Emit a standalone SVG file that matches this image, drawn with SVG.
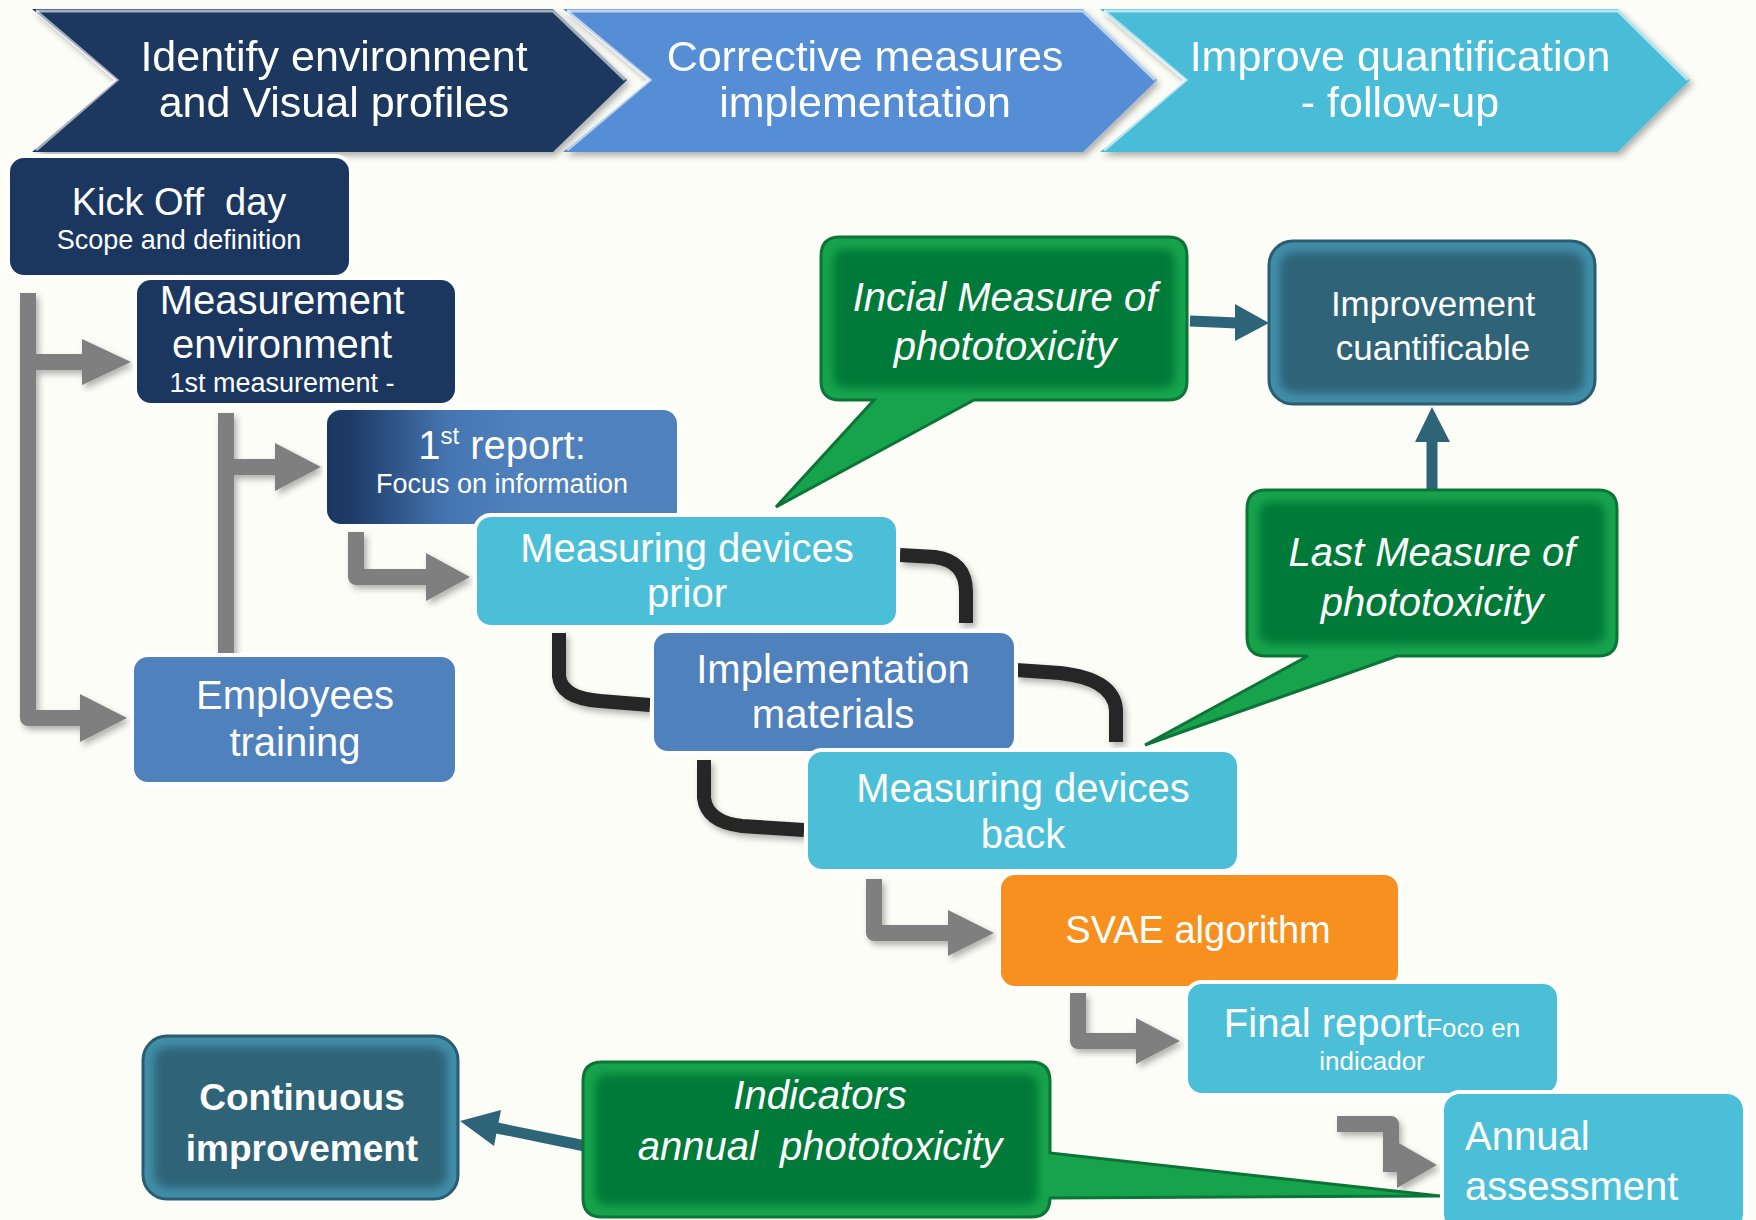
<svg xmlns="http://www.w3.org/2000/svg" width="1756" height="1220" viewBox="0 0 1756 1220">
<defs>
<style>
.t{font-family:'Liberation Sans',Arial,Helvetica,sans-serif;fill:#fff;text-anchor:middle}
.h{font-size:43px}
.m{font-size:40px}
.s{font-size:27px}
.it{font-style:italic}
.box{stroke:#fff;stroke-width:4}
.navy{fill:#1b375f}
.blue{fill:#4f81bd}
.cyan{fill:#4bbfd8}
.orange{fill:#f7901e}
.gray{fill:none;stroke:#7f7f7f;stroke-width:16;stroke-linejoin:round}
.grayhead{fill:#7f7f7f}
.blk{fill:none;stroke:#262626;stroke-width:14}
.teal{fill:none;stroke:#2e6478;stroke-width:11}
.tealhead{fill:#2e6478}
.gOut{fill:#17a34c;stroke:#0b7436;stroke-width:3}
.gIn{fill:#007a38}
.tOut{fill:#428ea9;stroke:#2a5d71;stroke-width:3}
.tIn{fill:#2e6478}
.hl{fill:none;stroke:#fff;stroke-opacity:0.6;stroke-width:3}
</style>
<filter id="soft" x="-10%" y="-10%" width="120%" height="120%"><feGaussianBlur stdDeviation="4"/></filter>
<filter id="sh" x="-10%" y="-10%" width="130%" height="130%"><feDropShadow dx="3" dy="4" stdDeviation="3" flood-color="#000" flood-opacity="0.3"/></filter>
<linearGradient id="rep" x1="0" x2="1" y1="0" y2="0">
<stop offset="0" stop-color="#1a365f"/>
<stop offset="0.08" stop-color="#1e3c68"/>
<stop offset="0.35" stop-color="#4576b2"/>
<stop offset="0.55" stop-color="#4f81bd"/>
<stop offset="1" stop-color="#4f81bd"/>
</linearGradient>
</defs>
<rect x="0" y="0" width="1756" height="1220" fill="#fdfdf8"/>

<!-- phase chevrons -->
<g id="phase3" filter="url(#sh)">
<polygon points="1100,9 1618,9 1690,80 1618,152 1100,152 1186,80" fill="#4abdd7"/>
<polyline class="hl" points="1104,11 1618,11 1688,80"/>
<polyline class="hl" points="1104,11 1186,80 1104,150"/>
<text class="t h" x="1400" y="71">Improve quantification</text>
<text class="t h" x="1400" y="117">- follow-up</text>
</g>
<g id="phase2" filter="url(#sh)">
<polygon points="563,9 1083,9 1157,80 1083,152 563,152 650,80" fill="#558ed5"/>
<polyline class="hl" points="567,11 1083,11 1155,80"/>
<polyline class="hl" points="567,11 650,80 567,150"/>
<text class="t h" x="865" y="71">Corrective measures</text>
<text class="t h" x="865" y="117">implementation</text>
</g>
<g id="phase1" filter="url(#sh)">
<polygon points="32,9 553,9 627,80 553,152 32,152 117,80" fill="#1b375f"/>
<polyline class="hl" points="36,11 553,11 625,80" stroke-opacity="0.35"/>
<polyline class="hl" points="36,11 117,80 36,150"/>
<text class="t h" x="334" y="71">Identify environment</text>
<text class="t h" x="334" y="117">and Visual profiles</text>
</g>

<!-- connectors -->
<g id="connectors">
<g filter="url(#sh)">
<path class="gray" d="M28 293 V718 H84 M28 362 H86"/>
<polygon class="grayhead" points="82,339 131,362 82,385"/>
<polygon class="grayhead" points="80,694 127,718 80,742"/>
<path class="gray" d="M226 413 V660 M226 467 H277"/>
<polygon class="grayhead" points="275,443 321,467 275,491"/>
<path class="gray" d="M356 532 V577 H428"/>
<polygon class="grayhead" points="426,553 470,577 426,601"/>
<path class="gray" d="M874 879 V933 H950"/>
<polygon class="grayhead" points="948,910 994,933 948,956"/>
<path class="gray" d="M1078 993 V1041 H1138"/>
<polygon class="grayhead" points="1136,1018 1180,1041 1136,1064"/>
<path class="gray" d="M1337 1124 H1391 V1172"/>
<polygon class="grayhead" points="1397,1142 1437,1165 1397,1188"/>
<path class="blk" d="M900 555 L935 557 Q966 561 966 592 L966 623"/>
<path class="blk" d="M559 633 L559 676 Q561 698 600 701 L650 705"/>
<path class="blk" d="M1016 670 L1060 673 Q1114 679 1116 710 L1116 742"/>
<path class="blk" d="M704 760 L704 798 Q707 822 742 826 L804 830"/>
</g>
<path class="teal" d="M1190 321 L1238 323"/>
<polygon class="tealhead" points="1235,304 1269,323 1235,341"/>
<path class="teal" d="M1432 492 V440" stroke-width="12"/>
<polygon class="tealhead" points="1415,442 1432,407 1450,442"/>
<path class="teal" d="M585 1146 L497 1128"/>
<polygon class="tealhead" points="460,1121 501,1110 494,1146"/>
</g>

<!-- process boxes -->
<g id="kickoff">
<rect class="box navy" x="8" y="156" width="343" height="121" rx="16"/>
<text class="t" x="179" y="215" font-size="38">Kick Off&#160; day</text>
<text class="t s" x="179" y="249">Scope and definition</text>
</g>
<g id="measurement">
<rect class="box navy" x="135" y="278" width="322" height="127" rx="16"/>
<text class="t m" x="282" y="314">Measurement</text>
<text class="t m" x="282" y="358">environment</text>
<text class="t s" x="282" y="392">1st measurement -</text>
</g>
<g id="report1">
<rect class="box" x="325" y="408" width="354" height="118" rx="16" fill="url(#rep)"/>
<text class="t m" x="502" y="459">1<tspan font-size="24" dy="-15">st</tspan><tspan dy="15"> report:</tspan></text>
<text class="t s" x="502" y="493">Focus on information</text>
</g>
<g id="prior">
<rect class="box cyan" x="475" y="515" width="423" height="112" rx="16"/>
<text class="t m" x="687" y="562">Measuring devices</text>
<text class="t m" x="687" y="607">prior</text>
</g>
<g id="training">
<rect class="box blue" x="132" y="655" width="325" height="129" rx="16"/>
<text class="t m" x="295" y="709">Employees</text>
<text class="t m" x="295" y="756">training</text>
</g>
<g id="implementation">
<rect class="box blue" x="652" y="631" width="364" height="122" rx="16"/>
<text class="t m" x="833" y="683">Implementation</text>
<text class="t m" x="833" y="728">materials</text>
</g>
<g id="back">
<rect class="box cyan" x="806" y="750" width="433" height="121" rx="16"/>
<text class="t m" x="1023" y="802">Measuring devices</text>
<text class="t m" x="1023" y="848">back</text>
</g>
<g id="svae">
<rect class="box orange" x="999" y="873" width="401" height="115" rx="16"/>
<text class="t" x="1198" y="943" font-size="38">SVAE algorithm</text>
</g>
<g id="final">
<rect class="box cyan" x="1186" y="982" width="373" height="113" rx="16"/>
<text class="t m" x="1372" y="1037">Final report<tspan font-size="26">Foco en</tspan></text>
<text class="t" x="1372" y="1070" font-size="26">indicador</text>
</g>
<g id="annual">
<rect class="box cyan" x="1442" y="1092" width="303" height="140" rx="18"/>
<text class="t m" x="1465" y="1150" style="text-anchor:start">Annual</text>
<text class="t m" x="1465" y="1200" style="text-anchor:start">assessment</text>
</g>

<!-- callouts -->
<g id="incial">
<path class="gOut" d="M840 237 H1168 Q1187 237 1187 256 V381 Q1187 400 1168 400 H974 L776 507 L874 400 H840 Q821 400 821 381 V256 Q821 237 840 237 Z"/>
<rect class="gIn" x="833" y="249" width="342" height="139" rx="12" filter="url(#soft)"/>
<text class="t m it" x="1005" y="311">Incial Measure of</text>
<text class="t m it" x="1005" y="360">phototoxicity</text>
</g>
<g id="last">
<path class="gOut" d="M1266 490 H1598 Q1617 490 1617 509 V637 Q1617 656 1598 656 H1397 L1145 745 L1308 656 H1266 Q1247 656 1247 637 V509 Q1247 490 1266 490 Z"/>
<rect class="gIn" x="1259" y="502" width="346" height="142" rx="12" filter="url(#soft)"/>
<text class="t m it" x="1432" y="566">Last Measure of</text>
<text class="t m it" x="1432" y="616">phototoxicity</text>
</g>
<g id="indicators">
<path class="gOut" d="M602 1062 H1031 Q1050 1062 1050 1081 V1153 L1440 1196 L1050 1198 V1198 Q1050 1217 1031 1217 H602 Q583 1217 583 1198 V1081 Q583 1062 602 1062 Z"/>
<rect class="gIn" x="595" y="1074" width="443" height="131" rx="12" filter="url(#soft)"/>
<text class="t m it" x="820" y="1109">Indicators</text>
<text class="t m it" x="820" y="1160">annual&#160; phototoxicity</text>
</g>
<g id="improvement">
<rect class="tOut" x="1269" y="241" width="326" height="163" rx="24"/>
<rect class="tIn" x="1280" y="252" width="304" height="141" rx="14" filter="url(#soft)"/>
<text class="t" x="1433" y="316" font-size="35">Improvement</text>
<text class="t" x="1433" y="360" font-size="35">cuantificable</text>
</g>
<g id="continuous">
<rect class="tOut" x="143" y="1036" width="315" height="163" rx="24"/>
<rect class="tIn" x="154" y="1047" width="293" height="141" rx="14" filter="url(#soft)"/>
<text class="t" x="302" y="1110" font-size="37" font-weight="bold">Continuous</text>
<text class="t" x="302" y="1161" font-size="37" font-weight="bold">improvement</text>
</g>
</svg>
